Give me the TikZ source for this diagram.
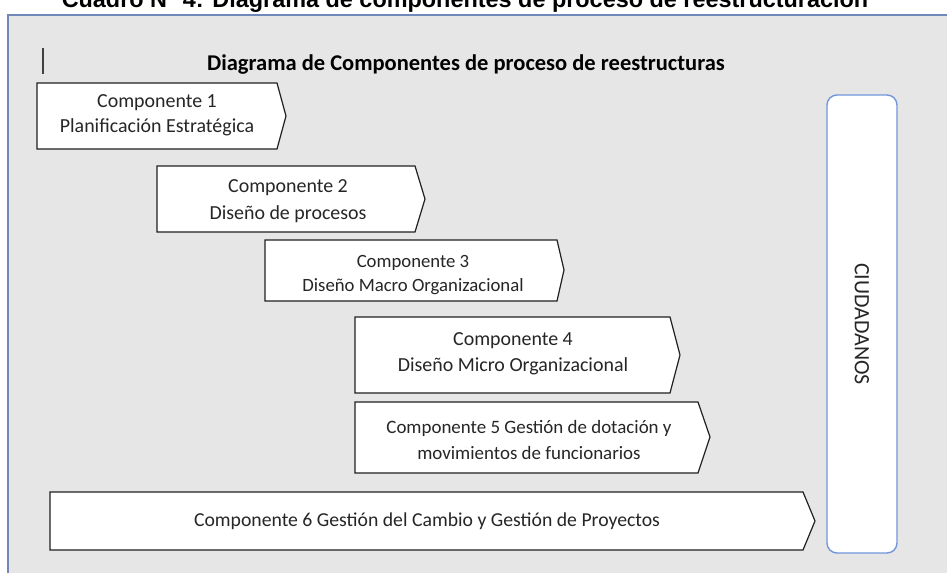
\documentclass[tikz,border=0pt]{standalone}
\usepackage{fontspec}
\setmainfont{Carlito}
\newfontfamily\arialfont{Liberation Sans}
\definecolor{bg}{HTML}{E6E6E6}
\definecolor{frameblue}{HTML}{7088BA}
\definecolor{ciudblue}{HTML}{7196DA}
\definecolor{ink}{HTML}{262626}
\definecolor{edge}{HTML}{202020}
\begin{document}
\begin{tikzpicture}[x=1bp,y=-1bp,
  arrowbox/.style={draw=edge, fill=white, line width=1.2bp, line join=miter},
  lbl/.style={text=ink, align=center, inner sep=0pt},
  ciudbox/.style={draw=ciudblue, fill=white, line width=1.4bp, rounded corners=10bp,
    minimum width=458bp, minimum height=70bp, rotate=-90, inner sep=0pt, text=ink,
    font=\fontsize{22}{26}\selectfont}
]
\useasboundingbox (0,0) rectangle (947,573);
\fill[white] (0,0) rectangle (947,573);
% caption above the frame (cut off at the top edge, as in the reference)
\node[anchor=base, inner sep=0pt, text=black,
  font=\arialfont\bfseries\fontsize{23.5}{28}\selectfont] (caption) at (465,7.5)
  {Cuadro N° 4: Diagrama de componentes de proceso de reestructuración};
% frame
\draw[fill=bg, draw=frameblue, line width=2bp] (8,15) rectangle (990,620);
\draw[draw=black!75, line width=1.3bp] (43,48) -- (43,74);
% heading
\node[lbl, anchor=base, font=\bfseries\fontsize{22.6}{27}\selectfont, text=black] (head) at (466,70.5)
  {Diagrama de Componentes de proceso de reestructuras};
% component 1
\draw[arrowbox] (37,83) -- (277,83) -- (286,116) -- (277,149) -- (37,149) -- cycle;
\node[lbl, font=\fontsize{20}{25}\selectfont] (c1) at (157,115)
  {Componente 1\\Planificación Estratégica};
% component 2
\draw[arrowbox] (157,166) -- (415,166) -- (425,199) -- (415,232) -- (157,232) -- cycle;
\node[lbl, font=\fontsize{20}{26.5}\selectfont] (c2) at (288,201)
  {Componente 2\\Diseño de procesos};
% component 3
\draw[arrowbox] (265,240) -- (557,240) -- (564,270) -- (557,301) -- (265,301) -- cycle;
\node[lbl, font=\fontsize{18.8}{25}\selectfont] (c3) at (413,275)
  {Componente 3\\Diseño Macro Organizacional};
% component 4
\draw[arrowbox] (355,317) -- (670,317) -- (680,355) -- (670,393) -- (355,393) -- cycle;
\node[lbl, font=\fontsize{20}{26}\selectfont] (c4) at (513,354)
  {Componente 4\\Diseño Micro Organizacional};
% component 5
\draw[arrowbox] (355,402) -- (698,402) -- (710,437) -- (698,473) -- (355,473) -- cycle;
\node[lbl, font=\fontsize{19}{27}\selectfont] (c5) at (529,440)
  {Componente 5 Gestión de dotación y\\movimientos de funcionarios};
% component 6
\draw[arrowbox] (50,492) -- (803,492) -- (815,521) -- (803,550) -- (50,550) -- cycle;
\node[lbl, font=\fontsize{19.8}{24}\selectfont] (c6) at (427,521)
  {Componente 6 Gestión del Cambio y Gestión de Proyectos};
% ciudadanos
\node[ciudbox] (ciud) at (862,324) {CIUDADANOS};
\end{tikzpicture}
\end{document}
